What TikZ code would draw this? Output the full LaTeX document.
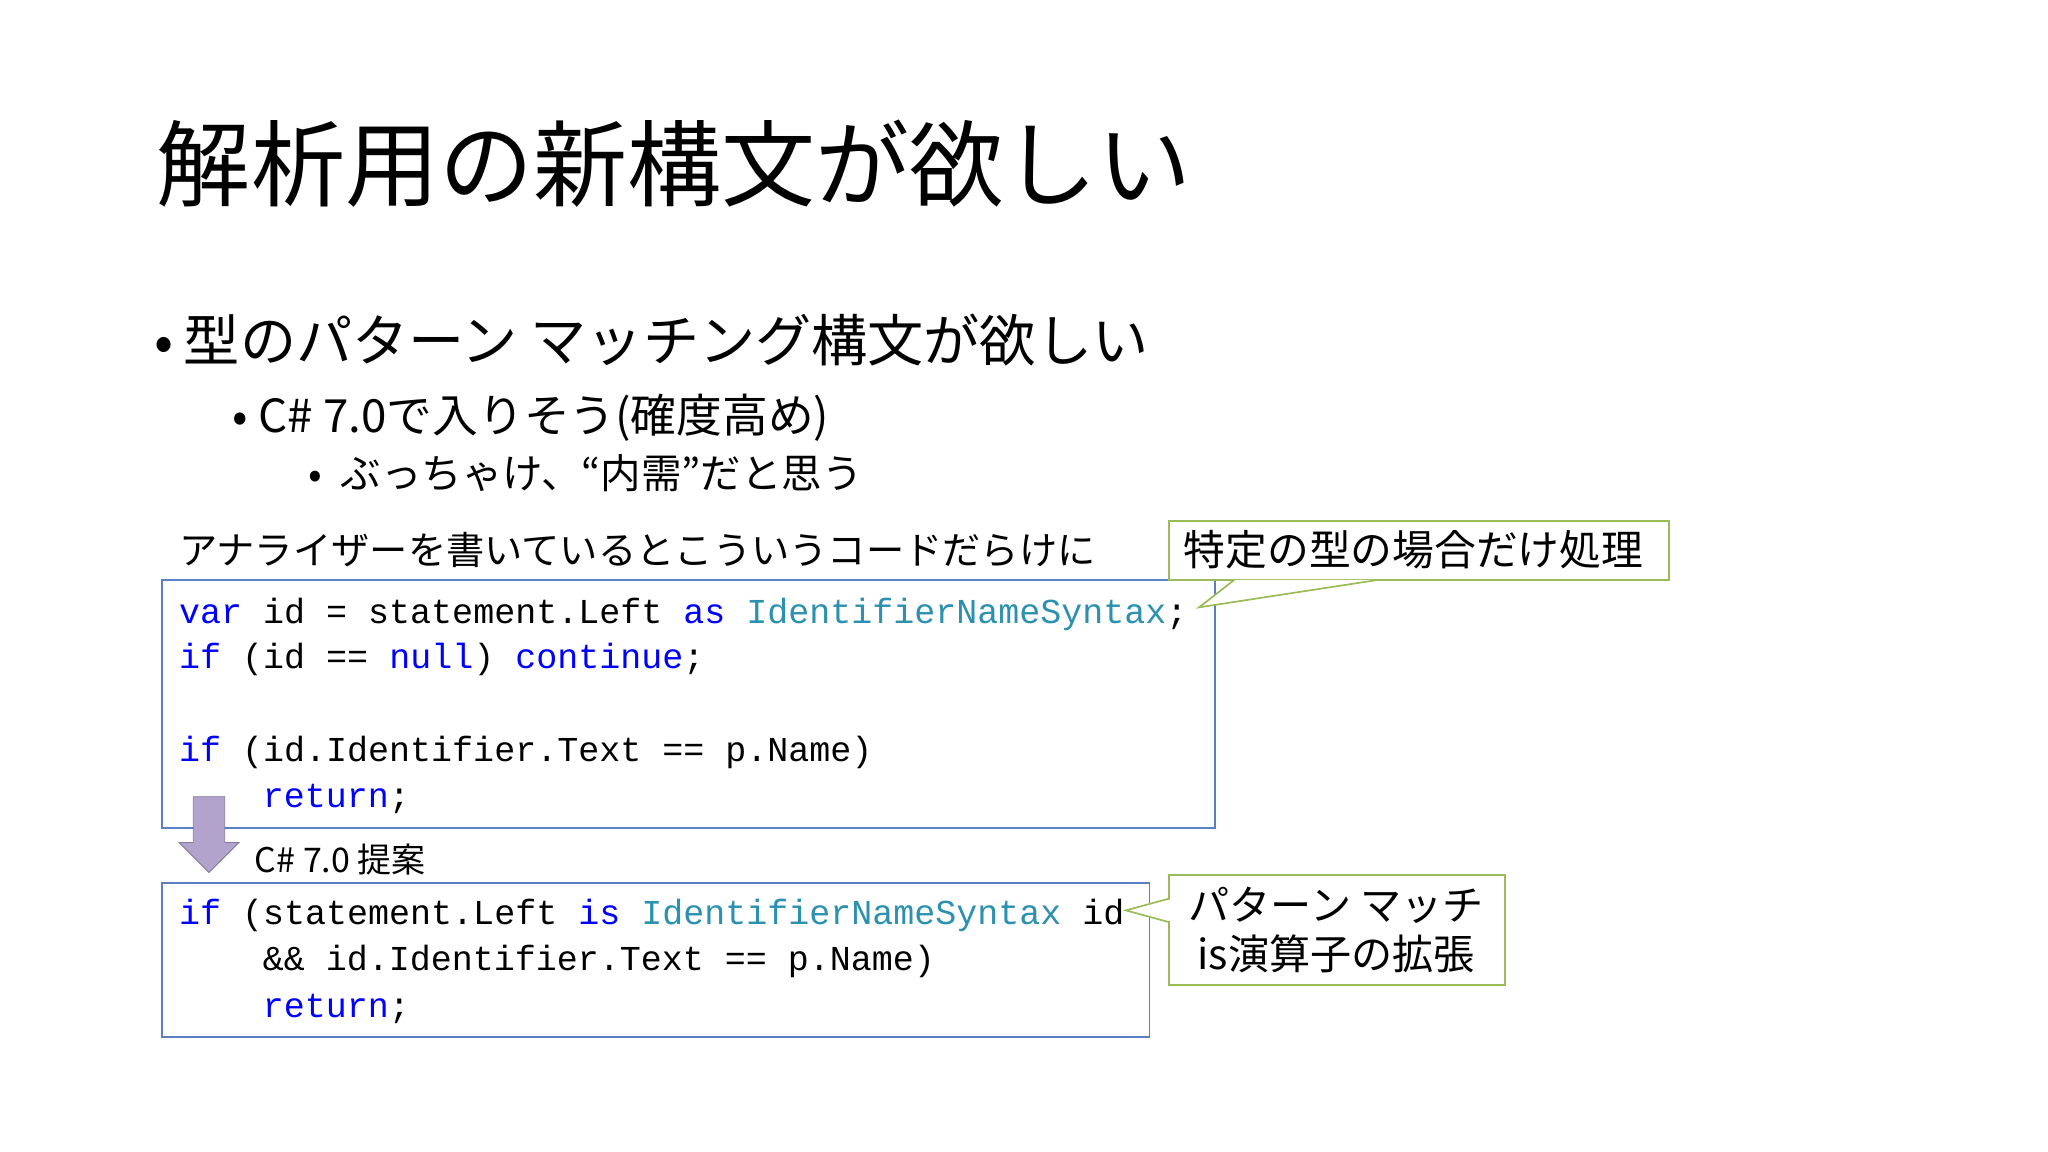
\documentclass[tikz,border=0pt]{standalone}
\usepackage{fontspec}
\setmainfont{Noto Sans CJK JP}
\newfontfamily\codefont{Liberation Mono}
\definecolor{kw}{HTML}{0000FF}
\definecolor{ty}{HTML}{2B91AF}
\definecolor{boxblue}{HTML}{5B7FC7}
\definecolor{calloutg}{HTML}{9BBB59}
\definecolor{arrowp}{HTML}{B1A3CC}
\newcommand{\K}[1]{\textcolor{kw}{#1}}
\newcommand{\T}[1]{\textcolor{ty}{#1}}
\begin{document}
\begin{tikzpicture}[x=1pt,y=-1pt,
  txt/.style={anchor=base west,inner sep=0pt},
  code/.style={txt,font=\codefont\fontsize{26.8}{30}\selectfont},
  codebox/.style={draw=boxblue,line width=1.3pt},
  callbox/.style={draw=calloutg,fill=white,line width=1.3pt}]
\useasboundingbox (0,0) rectangle (1568,882);
\node[txt,font=\fontsize{72}{80}\selectfont] (title) at (120,153) {解析用の新構文が欲しい};
\node[txt,font=\fontsize{43}{48}\selectfont] (b1) at (118,277) {•\hspace{8pt}型のパターン マッチング構文が欲しい};
\node[txt,font=\fontsize{35}{40}\selectfont] (b2) at (178,331) {•\hspace{8pt}C\# 7.0で入りそう(確度高め)};
\node[txt,font=\fontsize{31}{34}\selectfont] (b3) at (236,374) {•\hspace{14pt}ぶっちゃけ、“内需”だと思う};
\node[txt,font=\fontsize{29.3}{34}\selectfont] (cap1) at (137,432) {アナライザーを書いているとこういうコードだらけに};
% code box 1
\draw[codebox] (124,444) rectangle (930,634);
\node[code] (l1) at (137,477) {\K{var} id = statement.Left \K{as} \T{IdentifierNameSyntax};};
\node[code] (l2) at (137,512) {\K{if} (id == \K{null}) \K{continue};};
\node[code] (l3) at (137,583) {\K{if} (id.Identifier.Text == p.Name)};
\node[code] (l4) at (201,618) {\K{return};};
% callout 1
\coordinate (tip1) at (918,465);
\draw[callbox] (895,399) rectangle (1278,444);
\draw[calloutg,line width=1.3pt,fill=white] (945,444) -- (tip1) -- (1055,444);
\node[txt,font=\fontsize{32}{36}\selectfont] (c1) at (906,433) {特定の型の場合だけ処理};
% arrow
\coordinate (arr) at (160,610);
\draw[fill=arrowp,draw=arrowp!75!black,line width=0.6pt]
  (148,610) -- (172,610) -- (172,645) -- (183,645) -- (160,668) -- (137,645) -- (148,645) -- cycle;
\node[txt,font=\fontsize{26}{30}\selectfont] (cap2) at (195,668) {C\# 7.0 提案};
% code box 2
\draw[codebox] (124,676) rectangle (880,794);
\node[code] (m1) at (137,708) {\K{if} (statement.Left \K{is} \T{IdentifierNameSyntax} id};
\node[code] (m2) at (201,743) {\&\& id.Identifier.Text == p.Name)};
\node[code] (m3) at (201,779) {\K{return};};
% callout 2
\coordinate (tip2) at (862,697);
\draw[callbox] (895,670) rectangle (1152,754);
\draw[calloutg,line width=1.3pt,fill=white] (895,688) -- (tip2) -- (895,706);
\fill[white] (894.5,689) rectangle (896.5,705);
\node[font=\fontsize{31.5}{38}\selectfont,align=center,inner sep=0pt] (c2) at (1023,712) {パターン マッチ\\is演算子の拡張};
\end{tikzpicture}
\end{document}
